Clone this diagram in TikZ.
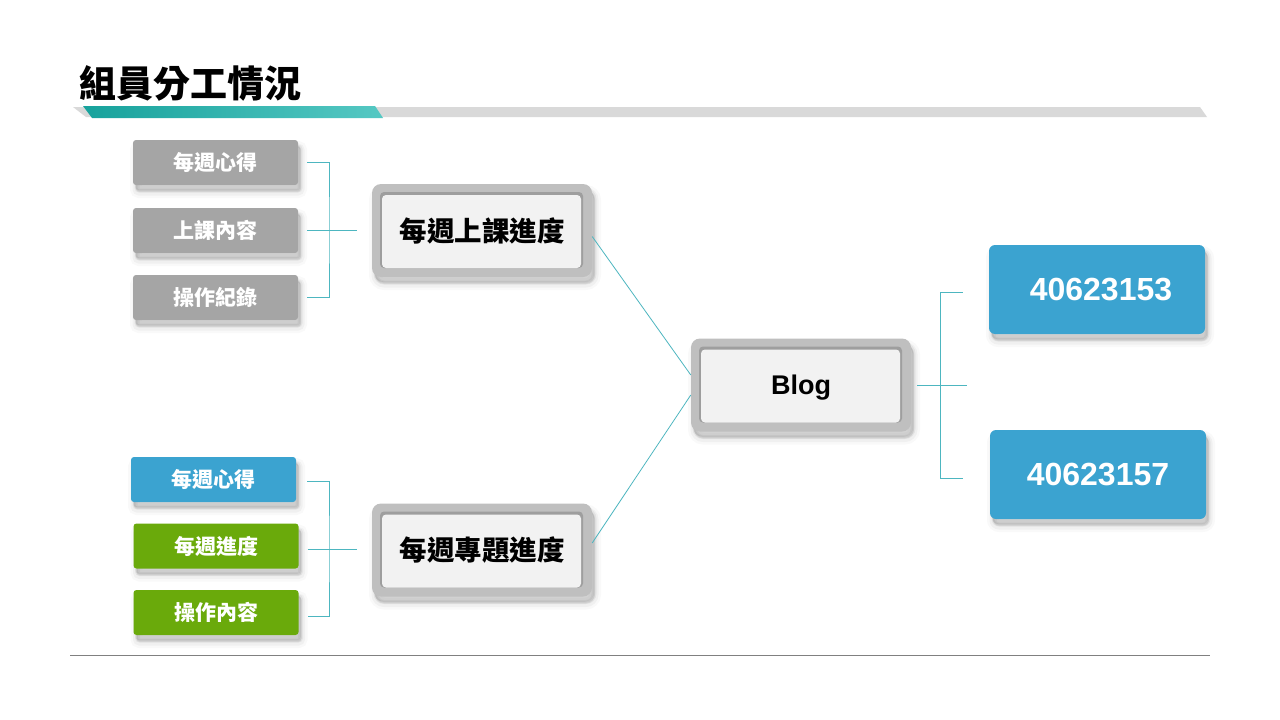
\documentclass[tikz,border=0pt]{standalone}
\usepackage{fontspec}
\setmainfont{Liberation Sans}
\newfontfamily\cjk{Noto Sans CJK TC}
\usetikzlibrary{calc}

\definecolor{tealA}{HTML}{17A29C}
\definecolor{tealB}{HTML}{55C8C3}
\definecolor{bargray}{HTML}{D9D9D9}
\definecolor{subgray}{HTML}{A5A5A5}
\definecolor{subblue}{HTML}{3BA3D0}
\definecolor{subgreen}{HTML}{6AAA0B}
\definecolor{frgray}{HTML}{BFBFBF}
\definecolor{ingray}{HTML}{F2F2F2}
\definecolor{lnteal}{HTML}{4DB6C0}

\tikzset{
	shd/.style={
		preaction={fill=black, draw=black, line width=12pt, opacity=0.025, transform canvas={shift={(3pt,-7pt)}}},
		preaction={fill=black, draw=black, line width=7pt, opacity=0.035, transform canvas={shift={(3pt,-7pt)}}},
		preaction={fill=black, draw=black, line width=3pt, opacity=0.05, transform canvas={shift={(3pt,-6pt)}}},
		preaction={fill=black, opacity=0.07, transform canvas={shift={(2pt,-5pt)}}}},
	sub/.style={shd, rounded corners=3pt, minimum width=165pt, minimum height=45pt, text=white, font=\cjk\bfseries\fontsize{21}{25}\selectfont},
	frame/.style={shd, fill=frgray, rounded corners=9pt, minimum width=220pt, minimum height=93pt,
		font=\cjk\bfseries\fontsize{27.5}{32}\selectfont,
		path picture={
			\fill[black!38, rounded corners=4pt] ([shift={(8pt,-8pt)}]path picture bounding box.north west) rectangle ([shift={(-9pt,9pt)}]path picture bounding box.south east);
			\fill[ingray, rounded corners=4pt] ([shift={(10pt,-11pt)}]path picture bounding box.north west) rectangle ([shift={(-11pt,9pt)}]path picture bounding box.south east);
		}},
	idbox/.style={shd, fill=subblue, rounded corners=6pt, minimum width=216pt, minimum height=89pt, text=white, font=\bfseries\fontsize{32}{36}\selectfont},
	link/.style={draw=lnteal, line width=0.8pt},
}

\begin{document}
\begin{tikzpicture}[x=1pt,y=1pt]
	\fill[white] (0,0) rectangle (1280,-720);
	\useasboundingbox (0,0) rectangle (1280,-720);
	\node[anchor=west, inner sep=0, font=\cjk\bfseries\fontsize{37}{41}\selectfont] (title) at (79,-83) {組員分工情況}; %標題
	\fill[bargray] (73,-107)--(1200,-107)--(1207,-117)--(86,-117); %灰條
	\shade[left color=tealA, right color=tealB] (83,-106)--(375,-106)--(383,-118)--(92,-118); %青條
	\draw[gray, line width=0.8pt] (70,-655)--(1210,-655); %底線

	% 上課
	\node[sub, fill=subgray] (a1) at (215.5,-162.5) {每週心得};
	\node[sub, fill=subgray] (a2) at (215.5,-230.5) {上課內容};
	\node[sub, fill=subgray] (a3) at (215.5,-297.5) {操作紀錄};
	\node[frame] (p1) at (482,-230.5) {每週上課進度};
	\coordinate (jl1) at (329,-230.5);
	\draw[link] ([xshift=9pt]a1.east) -| (jl1) |- ([xshift=9pt]a3.east);
	\draw[link] ([xshift=9pt]a2.east) -- ([xshift=-15pt]p1.west);

	% 專題
	\node[sub, fill=subblue] (b1) at (213.5,-479.5) {每週心得};
	\node[sub, fill=subgreen] (b2) at (216,-546) {每週進度};
	\node[sub, fill=subgreen] (b3) at (216,-612.5) {操作內容};
	\node[frame] (p2) at (482,-550) {每週專題進度};
	\coordinate (jl2) at (329,-549);
	\draw[link] ([shift={(11pt,-1.5pt)}]b1.east) -| (jl2) |- ([shift={(9pt,-3.5pt)}]b3.east);
	\draw[link] ($(b2.east |- jl2)+(9,0)$) -- ($(p2.west |- jl2)+(-15,0)$);

	% Blog
	\node[frame, font=\bfseries\fontsize{27}{31}\selectfont] (blog) at (801,-385) {\raisebox{-3pt}[\height][\depth]{Blog}};
	\draw[link] ([yshift=-6pt]p1.east) -- ([yshift=10pt]blog.west);
	\draw[link] ([yshift=7pt]p2.east) -- ([yshift=-10pt]blog.west);

	\node[idbox] (id1) at (1097,-289.5) {\hspace*{8pt}40623153};
	\node[idbox] (id2) at (1098,-474.5) {40623157};
	\coordinate (jr) at (940,-384);
	\draw[link] ([xshift=6pt]blog.east) -- ++(50,0);
	\draw[link] ([shift={(-26pt,-3pt)}]id1.west) -| (jr) |- ([shift={(-27pt,-4pt)}]id2.west);
\end{tikzpicture}
\end{document}
